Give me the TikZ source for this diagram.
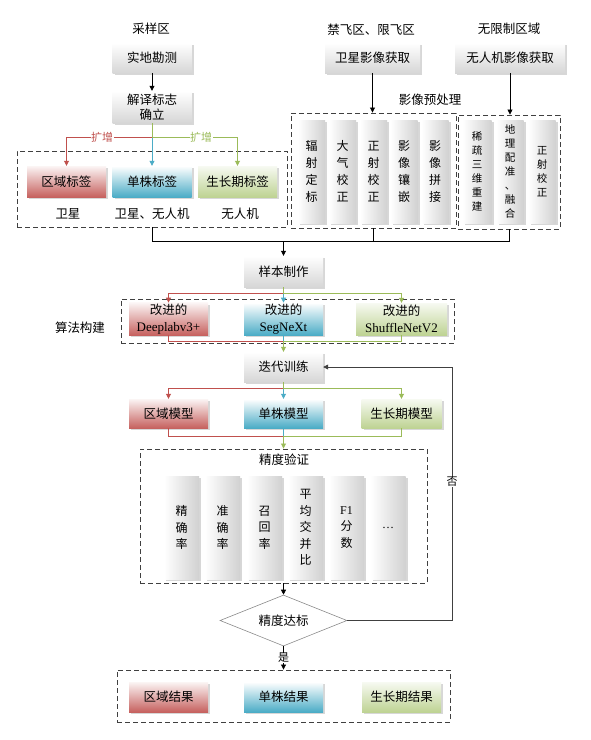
\documentclass[tikz,border=0pt]{standalone}
\usepackage{fontspec}
\setmainfont{Liberation Serif}
\newfontfamily\cjk{Noto Sans CJK SC}
\usetikzlibrary{arrows.meta,shapes.geometric,shadows,calc}
\definecolor{myred}{HTML}{C0504D}
\definecolor{myblue}{HTML}{4BACC6}
\definecolor{mygreen}{HTML}{9BBB59}
\begin{document}
\begin{tikzpicture}[x=1pt,y=-1pt,
  every node/.style={font=\cjk\fontsize{12.5}{15}\selectfont, inner sep=1pt},
  sh/.style={drop shadow={shadow xshift=2pt,shadow yshift=-2pt,opacity=0.22,fill=black!70}},
  gbox/.style={rectangle, minimum width=79pt, minimum height=30pt, top color=white, bottom color=black!16, sh, align=center},
  rbox/.style={gbox, top color=myred!6, bottom color=myred!90},
  bbox/.style={gbox, top color=white, bottom color=myblue},
  grbox/.style={gbox, top color=mygreen!8, bottom color=mygreen!65},
  vbox/.style={rectangle, minimum width=27pt, minimum height=103pt, left color=white, right color=black!18, sh, align=center, font=\cjk\fontsize{12}{17}\selectfont},
  ubox/.style={vbox, font=\cjk\fontsize{10.5}{14}\selectfont},
  ebox/.style={vbox, minimum width=35pt, font=\cjk\fontsize{12}{16.5}\selectfont},
  dbox/.style={draw=black!75, line width=0.9pt, dash pattern=on 5pt off 3pt, inner sep=0pt},
  ln/.style={line width=0.8pt},
  arr/.style={line width=0.8pt, -{Triangle[length=5pt,width=5pt]}},
  lbl/.style={font=\cjk\fontsize{12.5}{15}\selectfont},
  small/.style={font=\cjk\fontsize{11}{13}\selectfont, fill=white, inner sep=0.5pt},
]
\fill[white] (0,0) rectangle (590,740);
\useasboundingbox (0,0) rectangle (590,740);

% ---------- dashed containers ----------
\node[dbox, minimum width=270pt, minimum height=76pt] (boxA) at (152,189) {};
\node[dbox, minimum width=165pt, minimum height=115pt] (boxB) at (373.5,170.5) {};
\node[dbox, minimum width=102pt, minimum height=114pt] (boxC) at (509,172) {};
\node[dbox, minimum width=333pt, minimum height=44pt] (boxD) at (287.5,321) {};
\node[dbox, minimum width=287pt, minimum height=134pt] (boxE) at (283.5,516) {};
\node[dbox, minimum width=333pt, minimum height=52pt] (boxF) at (283.5,696) {};

% ---------- titles ----------
\node[lbl] (t1) at (151,29) {采样区};
\node[lbl] (t2) at (371,30) {禁飞区、限飞区};
\node[lbl] (t3) at (509,29) {无限制区域};
\node[lbl] (t4) at (430,100) {影像预处理};
\node[lbl] (t5) at (80,328) {算法构建};
\node[lbl] (t6) at (284,460) {精度验证};

% ---------- top left ----------
\node[gbox] (sd) at (152,58) {实地勘测};
\node[gbox, minimum height=32pt, font=\cjk\fontsize{12.5}{15}\selectfont] (jy) at (152,107) {解译标志\\确立};
\node[rbox, minimum height=31pt] (qy) at (66.5,181.5) {区域标签};
\node[bbox, minimum height=31pt] (dz) at (152,181.5) {单株标签};
\node[grbox, minimum height=31pt] (sz) at (237.5,181.5) {生长期标签};
\node[lbl] (l1) at (68,214) {卫星};
\node[lbl] (l2) at (152,214) {卫星、无人机};
\node[lbl] (l3) at (240,214) {无人机};

% ---------- top right ----------
\node[gbox, minimum width=95pt] (wx) at (372.5,58) {卫星影像获取};
\node[gbox, minimum width=110pt] (wr) at (510,58) {无人机影像获取};
\node[vbox] (v1) at (311.5,171.5) {辐\\射\\定\\标};
\node[vbox] (v2) at (342.5,171.5) {大\\气\\校\\正};
\node[vbox] (v3) at (373.5,171.5) {正\\射\\校\\正};
\node[vbox] (v4) at (404,171.5) {影\\像\\镶\\嵌};
\node[vbox] (v5) at (435,171.5) {影\\像\\拼\\接};
\node[ubox, minimum width=29pt] (u1) at (477,171.5) {稀\\疏\\三\\维\\重\\建};
\node[ubox] (u2) at (510,171.5) {地\\理\\配\\准\\、\\融\\合};
\node[ubox] (u3) at (542,171.5) {正\\射\\校\\正};

% ---------- middle ----------
\node[gbox, minimum height=31pt] (yb) at (283.5,271.5) {样本制作};
\node[rbox, minimum height=32pt, font=\cjk\fontsize{12.5}{17}\selectfont] (m1) at (168.5,319) {改进的\\{\rmfamily\fontsize{13}{17}\selectfont Deeplabv3+}};
\node[bbox, minimum height=32pt, font=\cjk\fontsize{12.5}{17}\selectfont] (m2) at (283.5,319) {改进的\\{\rmfamily\fontsize{13}{17}\selectfont SegNeXt}};
\node[grbox, minimum height=32pt, minimum width=91pt, font=\cjk\fontsize{12.5}{17}\selectfont] (m3) at (401.5,319) {改进的\\{\rmfamily\fontsize{13}{17}\selectfont ShuffleNetV2}};
\node[gbox] (dd) at (283.5,367) {迭代训练};
\node[rbox, minimum height=29pt] (r1) at (168.5,413.5) {区域模型};
\node[bbox, minimum height=29pt] (r2) at (283.5,413.5) {单株模型};
\node[grbox, minimum height=29pt, minimum width=80pt] (r3) at (401.5,413.5) {生长期模型};

% ---------- evaluation ----------
\node[ebox] (e1) at (181.5,527.5) {精\\确\\率};
\node[ebox] (e2) at (222.5,527.5) {准\\确\\率};
\node[ebox] (e3) at (264.5,527.5) {召\\回\\率};
\node[ebox] (e4) at (305.5,527.5) {平\\均\\交\\并\\比};
\node[ebox] (e5) at (346.5,527.5) {{\rmfamily F1}\\分\\数};
\node[ebox] (e6) at (388,527.5) {{\rmfamily …}};
\node[diamond, draw=black!45, line width=0.6pt, aspect=2.5, minimum width=127pt, minimum height=51pt, inner sep=0pt, fill=white] (dia) at (283.5,620.5) {精度达标};

% ---------- results ----------
\node[rbox] (f1) at (168.5,697) {区域结果};
\node[bbox] (f2) at (283.5,697) {单株结果};
\node[grbox] (f3) at (401.5,697) {生长期结果};

% ---------- coordinates ----------
\coordinate (b1) at (152,137);
\coordinate (ma) at (152,241);
\coordinate (b2) at (283.5,293);
\coordinate (c2) at (283.5,341);
\coordinate (b3) at (283.5,388);
\coordinate (c3) at (283.5,436);
\coordinate (fb) at (452,620.5);

% ---------- connectors ----------
\draw[arr] (sd.south) -- (jy.north);
\draw[arr, myblue] (jy.south) -- (dz.north);
\draw[arr, myred] (jy.south) -- (b1) -| (qy.north);
\draw[arr, mygreen] (jy.south) -- (b1) -| (sz.north);
\node[small, text=myred] (k1) at (102,137) {扩增};
\node[small, text=mygreen] (k2) at (201,137) {扩增};

\draw[arr] (wx.south) -- (wx.south |- boxB.north);
\draw[arr] (wr.south) -- (wr.south |- boxC.north);
\draw[ln] (boxA.south) |- (boxC.south |- ma) -- (boxC.south);
\draw[ln] (boxB.south) -- (boxB.south |- ma);
\draw[arr] (yb.north |- ma) -- (yb.north);

\draw[arr, myblue] (yb.south) -- (m2.north);
\draw[arr, myred] (yb.south) -- (b2) -| (m1.north);
\draw[arr, mygreen] (yb.south) -- (b2) -| (m3.north);
\draw[ln, myblue] (m2.south) -- (c2);
\draw[ln, myred] (m1.south) |- (c2);
\draw[arr, mygreen] (m3.south) |- (c2) -- (dd.north);

\draw[arr, myblue] (dd.south) -- (r2.north);
\draw[arr, myred] (dd.south) -- (b3) -| (r1.north);
\draw[arr, mygreen] (dd.south) -- (b3) -| (r3.north);
\draw[ln, myblue] (r2.south) -- (c3);
\draw[ln, myred] (r1.south) |- (c3);
\draw[arr, mygreen] (r3.south) |- (c3) -- (boxE.north);

\draw[arr] (boxE.south) -- (dia.north);
\draw[arr, black!75] (dia.east) -- (fb) -- (fb |- dd.east) -- (dd.east);
\node[small] (no) at (452,482) {否};
\draw[arr] (dia.south) -- (boxF.north);
\node[small] (yes) at (283.5,658) {是};
\end{tikzpicture}
\end{document}
